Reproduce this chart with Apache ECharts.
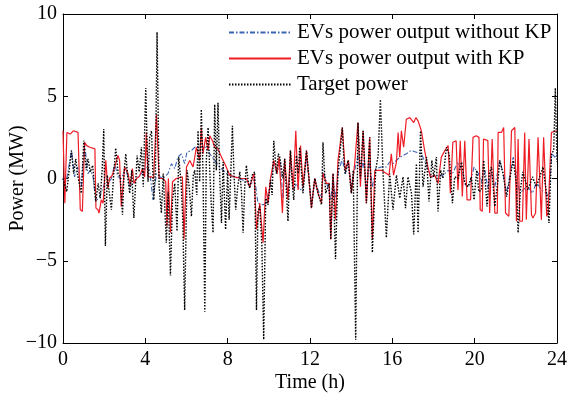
<!DOCTYPE html>
<html>
<head>
<meta charset="utf-8">
<script src="https://cdn.jsdelivr.net/npm/echarts@6/dist/echarts.min.js"></script>
<style>html,body{margin:0;padding:0;background:#fff}#c{width:569px;height:396px}</style>
</head>
<body>
<div id="c"></div>
<script>
var seriesNames = ['EVs power output without KP', 'EVs power output with KP', 'Target power'];
var xTicks = [0, 4, 8, 12, 16, 20, 24];
var yTicks = [-10, -5, 0, 5, 10];

var withoutKP = [
[0.0,0.0],[0.1,-0.3],[0.2,0.1],[0.41,1.7],[0.56,0.1],[0.71,0.7],[0.89,-0.5],[1.05,2.1],[1.21,0.3],[1.33,0.5],[1.46,0.1],[1.59,-1.4],[1.78,-1.1],[2.02,-0.3],[2.19,-0.3],[2.35,0.0],[2.51,0.9],[2.67,0.1],[2.84,0.0],[3.05,0.7],[3.24,-0.5],[3.4,-0.3],[3.57,0.0],[3.81,0.3],[4.05,0.7],[4.21,0.5],[4.37,-1.3],[4.54,0.3],[4.7,0.1],[4.86,0.0],[5.1,0.3],[5.27,0.9],[5.43,0.6],[5.58,1.3],[5.75,1.5],[5.91,0.9],[6.02,1.6],[6.24,1.7],[6.4,1.9],[6.56,1.9],[6.77,1.9],[6.97,1.9],[7.13,1.5],[7.37,1.1],[7.61,0.7],[7.94,0.3],[8.26,0.1],[8.59,0.0],[8.91,-0.2],[9.07,-0.5],[9.31,0.0],[9.47,-1.5],[9.72,-1.6],[9.88,-1.5],[10.04,-0.5],[10.24,0.9],[10.4,0.3],[10.53,1.2],[10.69,-1.2],[10.77,0.9],[10.93,-1.0],[11.05,1.2],[11.21,-0.7],[11.34,-0.3],[11.5,-0.7],[11.66,-0.6],[11.83,1.3],[12.07,-1.6],[12.23,0.0],[12.39,-0.7],[12.56,-1.2],[12.63,0.5],[12.8,-0.2],[13.01,-1.3],[13.12,0.1],[13.24,-1.2],[13.36,0.3],[13.57,1.2],[13.71,0.3],[13.87,0.9],[14.01,-0.5],[14.17,0.5],[14.33,1.4],[14.45,0.2],[14.58,1.1],[14.74,-0.5],[14.9,1.0],[15.03,-0.5],[15.19,0.6],[15.47,0.7],[15.71,0.7],[15.87,1.0],[16.03,0.9],[16.28,1.2],[16.52,1.4],[16.68,1.5],[16.9,1.7],[17.17,1.6],[17.41,1.5],[17.66,0.8],[17.85,0.1],[18.14,0.1],[18.46,0.2],[18.71,0.5],[18.92,0.3],[19.19,1.0],[19.4,0.4],[19.6,-0.5],[19.76,-0.4],[19.97,0.7],[20.18,0.3],[20.33,-0.2],[20.5,0.5],[20.64,-0.6],[20.82,0.4],[20.98,-0.5],[21.22,1.1],[21.38,0.3],[21.55,-0.9],[21.71,0.2],[21.87,1.3],[22.03,0.3],[22.19,-0.9],[22.43,-0.6],[22.59,-0.5],[22.81,-0.9],[23.0,-0.2],[23.24,-0.7],[23.49,-0.9],[23.6,-1.2],[23.75,1.5],[23.9,1.3],[24.0,1.5]
];

var withKP = [
[0.0,2.9],[0.09,-1.5],[0.19,2.8],[0.35,2.7],[0.5,2.9],[0.73,2.8],[0.84,-1.9],[0.94,-2.0],[1.05,2.2],[1.15,2.0],[1.3,1.9],[1.55,1.8],[1.6,-1.8],[1.7,-1.9],[1.75,-2.1],[1.86,-1.3],[1.95,-1.5],[2.08,1.1],[2.18,-0.6],[2.26,0.0],[2.4,0.2],[2.67,1.4],[2.75,1.1],[2.83,-1.7],[2.99,0.7],[3.16,0.3],[3.27,-0.4],[3.37,0.6],[3.45,-0.3],[3.57,0.0],[3.7,0.1],[3.86,0.6],[3.97,0.1],[4.05,2.8],[4.13,0.1],[4.3,0.1],[4.4,0.0],[4.54,3.9],[4.67,0.0],[4.86,0.0],[4.99,-0.2],[5.05,-2.9],[5.12,0.0],[5.22,-3.3],[5.32,-0.2],[5.5,0.0],[5.8,0.1],[5.88,-3.7],[6.0,0.7],[6.16,1.1],[6.32,0.7],[6.48,1.9],[6.64,1.1],[6.72,3.1],[6.8,1.5],[6.93,2.5],[7.05,1.7],[7.13,2.6],[7.26,2.3],[7.37,1.9],[7.53,1.8],[7.7,1.3],[7.86,0.9],[8.1,0.2],[8.34,0.1],[8.67,0.0],[8.91,0.0],[9.07,-0.5],[9.2,0.0],[9.28,0.3],[9.4,-3.1],[9.56,-1.5],[9.72,-3.9],[9.85,-0.5],[9.96,-1.5],[10.08,0.0],[10.24,1.1],[10.4,0.3],[10.5,1.3],[10.66,-2.1],[10.77,1.2],[10.93,-1.3],[11.05,1.7],[11.18,-0.7],[11.31,2.9],[11.42,-0.7],[11.54,2.0],[11.66,-0.5],[11.83,1.7],[12.07,-1.8],[12.23,0.0],[12.39,-0.9],[12.56,-1.5],[12.63,0.3],[12.8,-0.3],[12.93,-0.3],[13.01,-3.7],[13.12,0.3],[13.24,-2.5],[13.36,1.1],[13.57,3.1],[13.71,0.5],[13.87,1.1],[14.01,-0.9],[14.17,0.9],[14.33,3.4],[14.45,-0.5],[14.58,2.9],[14.74,-1.5],[14.9,2.5],[15.03,-3.7],[15.15,0.5],[15.31,0.5],[15.47,0.5],[15.71,0.3],[15.84,0.2],[15.95,1.5],[16.06,0.2],[16.2,1.0],[16.28,2.8],[16.36,1.3],[16.44,2.9],[16.55,1.9],[16.68,3.6],[16.85,3.7],[17.04,3.4],[17.14,3.7],[17.25,3.5],[17.41,2.9],[17.57,1.7],[17.73,0.7],[17.85,0.1],[18.06,0.2],[18.22,-0.3],[18.38,1.3],[18.55,1.7],[18.71,2.0],[18.82,-0.9],[18.94,2.2],[19.1,2.3],[19.19,-0.7],[19.3,2.3],[19.4,-1.1],[19.52,2.3],[19.63,-1.3],[19.8,-1.3],[19.92,2.5],[20.08,2.6],[20.21,2.5],[20.27,-1.9],[20.37,-2.0],[20.43,2.4],[20.5,2.5],[20.64,2.3],[20.73,-2.1],[20.85,2.4],[20.98,-2.1],[21.1,-2.1],[21.14,2.8],[21.3,2.8],[21.41,3.1],[21.5,-2.1],[21.66,-2.3],[21.79,2.9],[21.95,3.1],[22.03,-2.6],[22.11,2.4],[22.19,-2.6],[22.32,-2.6],[22.43,2.8],[22.51,-2.5],[22.64,2.4],[22.76,-2.2],[22.83,-2.4],[22.96,-2.1],[23.08,2.5],[23.24,-2.5],[23.35,2.5],[23.5,-2.3],[23.57,-2.1],[23.65,0.5],[23.73,2.8],[24.0,2.9]
];

var target = [
[0.0,0.0],[0.18,-0.8],[0.41,1.7],[0.52,0.3],[0.62,1.2],[0.71,0.2],[0.89,-0.9],[1.01,2.3],[1.13,0.5],[1.21,1.2],[1.33,0.4],[1.44,0.8],[1.59,-1.4],[1.71,-0.3],[1.81,-1.2],[1.9,0.5],[1.98,3.0],[2.06,-4.1],[2.15,0.2],[2.24,-0.8],[2.35,-1.9],[2.46,0.2],[2.56,1.85],[2.68,0.3],[2.78,0.1],[2.89,-2.2],[2.97,0.4],[3.05,1.5],[3.14,0.2],[3.24,-0.9],[3.34,0.5],[3.44,-2.4],[3.52,-2.5],[3.6,1.4],[3.7,0.4],[3.81,1.9],[3.9,-0.5],[4.02,5.5],[4.13,-0.2],[4.21,2.5],[4.3,2.9],[4.41,-1.3],[4.49,0.5],[4.57,8.9],[4.67,-0.5],[4.78,-2.1],[4.87,0.3],[5.02,-3.9],[5.11,-0.8],[5.22,-5.9],[5.32,-1.3],[5.43,-0.3],[5.54,-3.2],[5.62,1.3],[5.74,-0.3],[5.82,-2.5],[5.91,-8.0],[6.03,0.5],[6.13,-0.5],[6.24,-2.3],[6.33,0.2],[6.4,0.5],[6.5,-1.0],[6.56,2.9],[6.64,-0.2],[6.72,4.2],[6.8,0.5],[6.89,-8.1],[6.96,1.0],[7.05,3.1],[7.13,0.5],[7.2,-1.5],[7.29,-3.3],[7.37,4.5],[7.45,0.5],[7.53,4.6],[7.61,0.3],[7.7,-2.7],[7.78,1.0],[7.9,-3.1],[8.0,0.5],[8.07,-2.5],[8.15,0.3],[8.23,3.2],[8.31,0.2],[8.39,-1.9],[8.49,-0.5],[8.59,0.4],[8.67,-0.8],[8.75,-3.3],[8.83,-0.5],[8.91,0.8],[9.0,-0.2],[9.07,-0.6],[9.19,0.2],[9.31,0.4],[9.4,-8.0],[9.47,-2.0],[9.56,-1.7],[9.66,-4.0],[9.75,-9.8],[9.85,-1.2],[9.96,-1.6],[10.08,-0.1],[10.16,-1.0],[10.24,2.3],[10.37,0.3],[10.46,1.5],[10.53,1.3],[10.69,0.0],[10.77,1.2],[10.93,-2.6],[11.05,1.7],[11.14,-0.3],[11.21,-1.3],[11.34,1.4],[11.43,0.3],[11.5,1.9],[11.66,-0.9],[11.83,1.7],[11.94,0.2],[12.07,-1.8],[12.23,0.0],[12.39,-0.9],[12.56,-1.6],[12.63,2.2],[12.76,-0.9],[12.93,-0.3],[13.01,-3.7],[13.12,0.3],[13.24,-4.9],[13.36,0.5],[13.45,1.5],[13.57,3.1],[13.64,1.3],[13.71,0.3],[13.85,1.1],[14.01,-0.9],[14.1,0.5],[14.22,-9.8],[14.33,3.4],[14.45,0.0],[14.58,2.9],[14.74,-1.5],[14.9,2.5],[15.03,-4.5],[15.19,0.5],[15.31,1.4],[15.42,4.8],[15.55,0.3],[15.71,-3.6],[15.87,0.3],[16.03,-1.9],[16.2,0.2],[16.36,-1.2],[16.52,0.1],[16.64,-1.8],[16.76,0.1],[16.93,-0.9],[17.04,-3.4],[17.17,0.9],[17.25,-3.3],[17.37,2.9],[17.49,-0.5],[17.66,1.3],[17.78,-1.4],[17.92,1.1],[18.01,0.1],[18.14,1.3],[18.22,-2.0],[18.35,0.5],[18.46,0.0],[18.63,1.9],[18.76,1.5],[18.92,-1.5],[19.03,0.1],[19.19,0.0],[19.36,1.0],[19.52,-0.3],[19.68,-0.5],[19.84,0.1],[19.97,-1.3],[20.1,0.5],[20.2,-0.8],[20.33,-0.7],[20.44,1.1],[20.6,-1.7],[20.71,0.3],[20.82,0.7],[20.98,-1.7],[21.14,0.0],[21.22,1.1],[21.38,0.3],[21.55,-1.1],[21.71,0.0],[21.87,1.1],[22.03,-0.3],[22.11,-3.3],[22.22,-0.7],[22.34,0.4],[22.43,0.0],[22.59,-0.7],[22.81,0.1],[23.0,-0.5],[23.16,0.1],[23.32,0.7],[23.49,-0.9],[23.61,-2.7],[23.73,1.5],[23.84,1.7],[23.92,5.5],[24.0,1.0]
];

var FONT = '"Liberation Serif", "Times New Roman", serif';
function fmt(v) { return String(v).replace('-', '\u2212'); }

var chart = echarts.init(document.getElementById('c'), null, {renderer: 'canvas'});
function axisBase() {
  return {
    axisLine: {show: true, onZero: false, lineStyle: {color: '#000', width: 1}},
    axisTick: {show: true, inside: true, length: 5, lineStyle: {color: '#000', width: 1}},
    splitLine: {show: false},
    nameMoveOverlap: false
  };
}
chart.setOption({
  animation: false,
  backgroundColor: '#fff',
  grid: {left: 63, right: 12, top: 14, bottom: 53, containLabel: false, outerBoundsMode: 'none'},
  legend: {
    orient: 'vertical',
    left: 223,
    top: 17,
    itemWidth: 62,
    itemHeight: 14,
    itemGap: 5,
    itemStyle: {opacity: 0},
    textStyle: {fontFamily: FONT, fontSize: 21, color: '#000', padding: [0, 0, 0, 1]},
    data: seriesNames
  },
  xAxis: [
    Object.assign(axisBase(), {
      type: 'value', min: xTicks[0], max: xTicks[xTicks.length - 1], interval: 4,
      name: 'Time (h)', nameLocation: 'middle', nameGap: 30,
      nameTextStyle: {fontFamily: FONT, fontSize: 20, color: '#000'},
      axisLabel: {fontFamily: FONT, fontSize: 20, color: '#000', margin: 7, formatter: fmt}
    }),
    Object.assign(axisBase(), {
      type: 'value', position: 'top', min: xTicks[0], max: xTicks[xTicks.length - 1], interval: 4,
      axisLabel: {show: false}
    })
  ],
  yAxis: [
    Object.assign(axisBase(), {
      type: 'value', min: yTicks[0], max: yTicks[yTicks.length - 1], interval: 5,
      name: 'Power (MW)', nameLocation: 'middle', nameGap: 35,
      nameTextStyle: {fontFamily: FONT, fontSize: 20, color: '#000'},
      axisLabel: {fontFamily: FONT, fontSize: 20, color: '#000', margin: 6, formatter: fmt}
    }),
    Object.assign(axisBase(), {
      type: 'value', position: 'right', min: yTicks[0], max: yTicks[yTicks.length - 1], interval: 5,
      axisLabel: {show: false}
    })
  ],
  series: [
    {
      name: seriesNames[0], type: 'line', data: withoutKP, symbol: 'none', z: 2,
      itemStyle: {color: 'rgba(0,0,0,0)'},
      lineStyle: {color: '#3a64b4', width: 1.1, type: [5, 2, 1.5, 2]}
    },
    {
      name: seriesNames[1], type: 'line', data: withKP, symbol: 'none', z: 3,
      itemStyle: {color: 'rgba(0,0,0,0)'},
      lineStyle: {color: '#ee1c25', width: 1.2, type: 'solid'}
    },
    {
      name: seriesNames[2], type: 'line', data: target, symbol: 'none', z: 4,
      itemStyle: {color: 'rgba(0,0,0,0)'},
      lineStyle: {color: '#000', width: 1.4, type: [1.5, 1.5]}
    }
  ]
});
</script>
</body>
</html>
